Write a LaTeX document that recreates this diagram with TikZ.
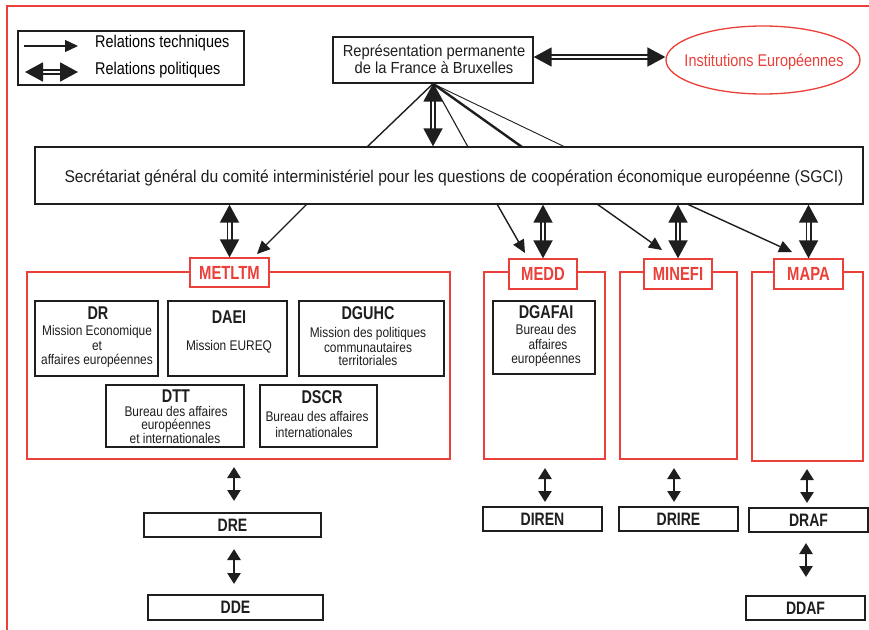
\documentclass[tikz,border=0pt]{standalone}
\usepackage{fontspec}
\setmainfont{Liberation Sans}[FakeStretch=0.85]
\newfontfamily\bldfam{Liberation Sans}[FakeStretch=0.78]
\newfontfamily\widefam{Liberation Sans}[FakeStretch=0.92]
\usetikzlibrary{arrows.meta,shapes.geometric}
\definecolor{rd}{RGB}{235,64,58}
\definecolor{ink}{RGB}{30,30,30}
\begin{document}
\begin{tikzpicture}[x=1pt,y=-1pt,
 bxs/.style={draw=ink,line width=1.4pt,inner sep=0pt,fill=white},
 rbx/.style={draw=rd,line width=1.3pt,inner sep=0pt},
 redlab/.style={draw=rd,line width=1.3pt,fill=white,inner sep=0pt,minimum height=29pt,text=rd,font=\fontsize{19}{19}\selectfont\bldfam\bfseries},
 botbox/.style={draw=ink,line width=1.4pt,inner sep=0pt,minimum height=24pt,text=ink,font=\fontsize{18}{18}\selectfont\bldfam\bfseries},
 tech/.style={draw=ink,line width=1.4pt,-{Triangle[length=13pt,width=12pt]}},
 pol/.style={draw=ink,line width=1.9pt,double=white,double distance=2.2pt,{Triangle[length=18pt,width=19pt]}-{Triangle[length=18pt,width=19pt]}},
 minorarr/.style={draw=ink,line width=2.5pt,{Triangle[length=11pt,width=13pt]}-{Triangle[length=11pt,width=13pt]}},
 ttl/.style={anchor=base,inner sep=0pt,font=\fontsize{18.5}{18.5}\selectfont\bldfam\bfseries,text=ink},
 bdy/.style={anchor=base,inner sep=0pt,font=\fontsize{14}{14}\selectfont,text=ink},
 txt/.style={anchor=base,inner sep=0pt,font=\fontsize{16}{16}\selectfont\widefam,text=ink},
]
\useasboundingbox (0,0) rectangle (869,629);
\fill[white] (0,0) rectangle (869,629);
% red frame
\coordinate (fbl) at (7,640);
\coordinate (ftl) at (7,6);
\coordinate (ftr) at (875,6);
\draw[rd,line width=1.5pt] (fbl) -- (ftl) -- (ftr);

% legend
\node[bxs,minimum width=226pt,minimum height=54pt] (legend) at (131,58) {};
\coordinate (lt1) at (24,46); \coordinate (lt2) at (78,46);
\draw[tech] (lt1) -- (lt2);
\coordinate (lp1) at (25,72); \coordinate (lp2) at (78,72);
\draw[pol] (lp1) -- (lp2);
\node[anchor=base west,inner sep=0pt,font=\fontsize{17}{17}\selectfont] (lgt) at (95,47) {Relations techniques};
\node[anchor=base west,inner sep=0pt,font=\fontsize{17}{17}\selectfont] (lgp) at (95,74) {Relations politiques};

% representation
\node[bxs,minimum width=200pt,minimum height=46pt] (rep) at (433,60) {};
\node[txt] (rept1) at (434,56) {Représentation permanente};
\node[txt] (rept2) at (434,73) {de la France à Bruxelles};

% institutions
\node[ellipse,draw=rd,line width=1.3pt,minimum width=194pt,minimum height=68pt,inner sep=0pt] (inst) at (763,60) {};
\node[anchor=base,inner sep=0pt,text=rd,font=\fontsize{17}{17}\selectfont] (instt) at (764,66) {Institutions Européennes};
\draw[pol] ([yshift=3pt]rep.east) -- ([yshift=3pt]inst.west);

% SGCI
\node[bxs,minimum width=828pt,minimum height=57pt] (sgci) at (449,175.5) {};
\node[txt,font=\fontsize{17}{17}\selectfont\widefam] (sgcit) at (454,182) {Secrétariat général du comité interministériel pour les questions de coopération économique européenne (SGCI)};

% rep <-> sgci
\coordinate (c1) at (367,147);
\coordinate (c2) at (468,147);
\coordinate (c3) at (522,147);
\coordinate (c4) at (565,147);
\draw[ink,line width=1.4pt] (c1) -- (rep.south);
\draw[ink,line width=1.1pt] (c2) -- (rep.south);
\draw[ink,line width=2.4pt] (c3) -- (rep.south);
\draw[ink,line width=0.9pt] (c4) -- (rep.south);
\draw[pol] (rep.south) -- (rep.south |- sgci.north);

% containers
\node[rbx,minimum width=423pt,minimum height=187pt] (metltmbox) at (238.5,365.5) {};
\node[rbx,minimum width=121pt,minimum height=187pt] (meddbox) at (544.5,365.5) {};
\node[rbx,minimum width=117pt,minimum height=187pt] (minefibox) at (678.5,365.5) {};
\node[rbx,minimum width=111pt,minimum height=189pt] (mapabox) at (807.5,366.5) {};
\node[redlab,minimum width=79pt] (metltm) at (229.5,272.5) {METLTM};
\node[redlab,minimum width=68pt,minimum height=30pt] (medd) at (543,274) {MEDD};
\node[redlab,minimum width=68pt,minimum height=30pt] (minefi) at (678,274) {MINEFI};
\node[redlab,minimum width=69pt,minimum height=30pt] (mapa) at (808.5,274) {MAPA};

% sgci -> ministries
\coordinate (m0) at (307,204); \coordinate (m1) at (257,254);
\coordinate (e0) at (497,204); \coordinate (e1) at (525,253);
\coordinate (f0) at (597,204); \coordinate (f1) at (662,250);
\coordinate (a0) at (687,204); \coordinate (a1) at (792,252);
\draw[tech] (m0) -- (m1);
\draw[tech] (e0) -- (e1);
\draw[tech] (f0) -- (f1);
\draw[tech] (a0) -- (a1);
\draw[pol] (metltm.north |- sgci.south) -- (metltm.north);
\draw[pol] (medd.north |- sgci.south) -- (medd.north);
\draw[pol] (minefi.north |- sgci.south) -- (minefi.north);
\draw[pol] (mapa.north |- sgci.south) -- (mapa.north);

% METLTM inner boxes
\node[bxs,minimum width=123pt,minimum height=75pt] (dr) at (96.5,338.5) {};
\node[ttl] (drt) at (98,319) {DR};
\node[bdy] (drb1) at (97,335) {Mission Economique};
\node[bdy] (drb2) at (97,350) {et};
\node[bdy] (drb3) at (97,364) {affaires européennes};

\node[bxs,minimum width=119pt,minimum height=75pt] (daei) at (227.5,338.5) {};
\node[ttl] (daeit) at (229,323) {DAEI};
\node[bdy] (daeib) at (229,350) {Mission EUREQ};

\node[bxs,minimum width=145pt,minimum height=75pt] (dguhc) at (371.5,338.5) {};
\node[ttl] (dguhct) at (368,319) {DGUHC};
\node[bdy] (dguhcb1) at (368,337) {Mission des politiques};
\node[bdy] (dguhcb2) at (368,352) {communautaires};
\node[bdy] (dguhcb3) at (368,365) {territoriales};

\node[bxs,minimum width=138pt,minimum height=62pt] (dtt) at (175,416) {};
\node[ttl] (dttt) at (176,402) {DTT};
\node[bdy] (dttb1) at (176,416) {Bureau des affaires};
\node[bdy] (dttb2) at (176,429.5) {européennes};
\node[bdy] (dttb3) at (175,443) {et internationales};

\node[bxs,minimum width=117pt,minimum height=62pt] (dscr) at (318.5,416) {};
\node[ttl] (dscrt) at (322,403) {DSCR};
\node[bdy] (dscrb1) at (317,421) {Bureau des affaires};
\node[bdy] (dscrb2) at (314,437) {internationales};

% MEDD inner box
\node[bxs,minimum width=102pt,minimum height=73pt] (dgafai) at (544,337.5) {};
\node[ttl] (dgafait) at (546,318) {DGAFAI};
\node[bdy] (dgafaib1) at (546,334) {Bureau des};
\node[bdy] (dgafaib2) at (548,349) {affaires};
\node[bdy] (dgafaib3) at (546,363) {européennes};

% bottom boxes
\node[botbox,minimum width=177pt] (dre) at (232.5,525) {DRE};
\node[botbox,minimum width=175pt,minimum height=25pt] (dde) at (235.5,607.5) {DDE};
\node[botbox,minimum width=119pt] (diren) at (542.5,519) {DIREN};
\node[botbox,minimum width=119pt] (drire) at (678.5,519) {DRIRE};
\node[botbox,minimum width=119pt] (draf) at (808.5,520) {DRAF};
\node[botbox,minimum width=119pt] (ddaf) at (805.5,608) {DDAF};

% small arrows
\coordinate (s1a) at (234,467); \coordinate (s1b) at (234,501);
\coordinate (s2a) at (234,549); \coordinate (s2b) at (234,584);
\coordinate (s3a) at (545,468); \coordinate (s3b) at (545,502);
\coordinate (s4a) at (674,468); \coordinate (s4b) at (674,502);
\coordinate (s5a) at (807,469); \coordinate (s5b) at (807,503);
\coordinate (s6a) at (806,543); \coordinate (s6b) at (806,577);
\draw[minorarr] (s1a) -- (s1b);
\draw[minorarr] (s2a) -- (s2b);
\draw[minorarr] (s3a) -- (s3b);
\draw[minorarr] (s4a) -- (s4b);
\draw[minorarr] (s5a) -- (s5b);
\draw[minorarr] (s6a) -- (s6b);
\end{tikzpicture}
\end{document}
